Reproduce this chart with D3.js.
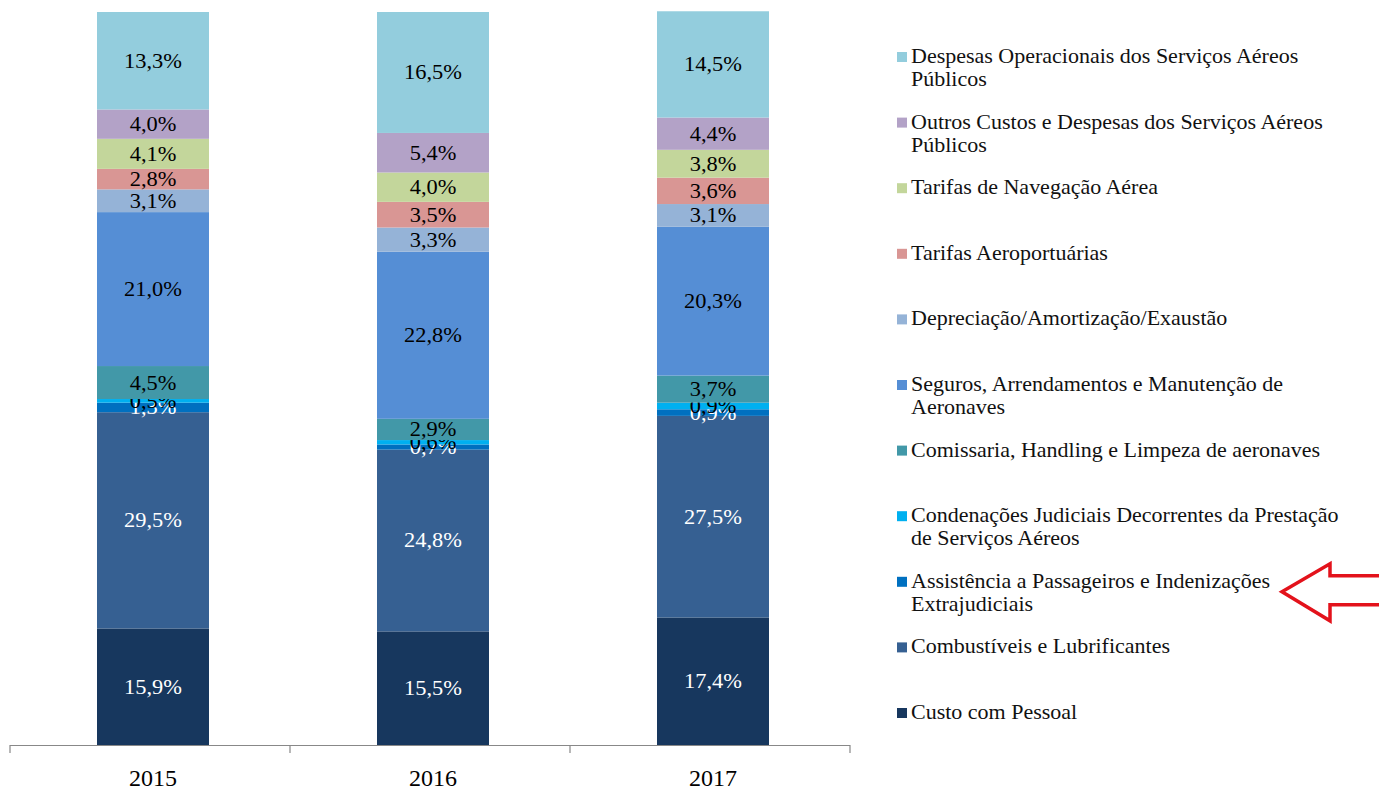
<!DOCTYPE html>
<html lang="pt">
<head>
<meta charset="UTF-8">
<script src="https://cdnjs.cloudflare.com/ajax/libs/d3/7.8.5/d3.min.js"></script>
<style>
  body { margin: 0; background: #fff; }
  text { font-family: "Liberation Serif", "Times New Roman", serif; }
</style>
</head>
<body>
<svg id="chart" width="1379" height="791"></svg>
<script>
const years = ['2015', '2016', '2017'];

// series, bottom to top of the stack
const series = [
  'Custo com Pessoal',
  'Combustíveis e Lubrificantes',
  'Assistência a Passageiros e Indenizações Extrajudiciais',
  'Condenações Judiciais Decorrentes da Prestação de Serviços Aéreos',
  'Comissaria, Handling e Limpeza de aeronaves',
  'Seguros, Arrendamentos e Manutenção de Aeronaves',
  'Depreciação/Amortização/Exaustão',
  'Tarifas Aeroportuárias',
  'Tarifas de Navegação Aérea',
  'Outros Custos e Despesas dos Serviços Aéreos Públicos',
  'Despesas Operacionais dos Serviços Aéreos Públicos'
];

const pessoal      = [15.9, 15.5, 17.4];
const combustiveis = [29.5, 24.8, 27.5];
const assistencia  = [1.3, 0.7, 0.9];
const condenacoes  = [0.5, 0.6, 0.9];
const comissaria   = [4.5, 2.9, 3.7];
const seguros      = [21.0, 22.8, 20.3];
const depreciacao  = [3.1, 3.3, 3.1];
const tarifasAero  = [2.8, 3.5, 3.6];
const navegacao    = [4.1, 4.0, 3.8];
const outros       = [4.0, 5.4, 4.4];
const despesasOp   = [13.3, 16.5, 14.5];

const values = [pessoal, combustiveis, assistencia, condenacoes, comissaria, seguros,
                depreciacao, tarifasAero, navegacao, outros, despesasOp];

const colors = ['#17375e', '#366092', '#0070c0', '#00b0f0', '#4298a8', '#558ed5',
                '#95b3d7', '#d99694', '#c3d69b', '#b3a2c7', '#93cddd'];
const labelColors = ['#fff', '#fff', '#fff', '#000', '#000', '#000',
                     '#000', '#000', '#000', '#000', '#000'];

// legend lines (top to bottom)
const legendLines = [
  ['Despesas Operacionais dos Serviços Aéreos', 'Públicos'],
  ['Outros Custos e Despesas dos Serviços Aéreos', 'Públicos'],
  ['Tarifas de Navegação Aérea'],
  ['Tarifas Aeroportuárias'],
  ['Depreciação/Amortização/Exaustão'],
  ['Seguros, Arrendamentos e Manutenção de', 'Aeronaves'],
  ['Comissaria, Handling e Limpeza de aeronaves'],
  ['Condenações Judiciais Decorrentes da Prestação', 'de Serviços Aéreos'],
  ['Assistência a Passageiros e Indenizações', 'Extrajudiciais'],
  ['Combustíveis e Lubrificantes'],
  ['Custo com Pessoal']
];

const table = years.map((y, i) => {
  const row = { year: y };
  series.forEach((s, j) => row[s] = values[j][i]);
  return row;
});

const svg = d3.select('#chart');
const x = d3.scaleBand().domain(years).range([13, 853]).paddingInner(0.6).paddingOuter(0.3);
const y = d3.scaleLinear().domain([0, 100]).range([745, 12]);

const stack = d3.stack().keys(series)(table);

const layers = svg.append('g').selectAll('g.layer')
  .data(stack).enter().append('g')
  .attr('class', 'layer')
  .attr('fill', (d, i) => colors[i]);

layers.selectAll('rect')
  .data(d => d).enter().append('rect')
  .attr('x', d => x(d.data.year))
  .attr('width', x.bandwidth())
  .attr('y', d => y(d[1]))
  .attr('height', d => y(d[0]) - y(d[1]));

layers.each(function (d, i) {
  d3.select(this).selectAll('text')
    .data(d).enter().append('text')
    .attr('transform', p => `translate(${x(p.data.year) + x.bandwidth() / 2},${(y(p[0]) + y(p[1])) / 2}) scale(1.12,1)`)
    .attr('dy', '0.35em')
    .attr('text-anchor', 'middle')
    .attr('font-size', 20)
    .attr('fill', labelColors[i])
    .text(p => d3.format('.1f')(p[1] - p[0]).replace('.', ',') + '%');
});

// x axis with boundary ticks
const axisG = svg.append('g');
axisG.append('line')
  .attr('x1', 10).attr('x2', 850).attr('y1', 745.5).attr('y2', 745.5)
  .attr('stroke', '#888').attr('stroke-width', 1.2);
const step = x.step();
axisG.selectAll('line.tick')
  .data(d3.range(years.length + 1)).enter().append('line')
  .attr('class', 'tick')
  .attr('x1', i => 10 + i * step).attr('x2', i => 10 + i * step)
  .attr('y1', 745).attr('y2', 753)
  .attr('stroke', '#888').attr('stroke-width', 1.2);
axisG.selectAll('text')
  .data(years).enter().append('text')
  .attr('x', d => x(d) + x.bandwidth() / 2)
  .attr('y', 786)
  .attr('text-anchor', 'middle')
  .attr('font-size', 24)
  .text(d => d);

// legend
const legend = svg.append('g').attr('transform', 'translate(897,56)');
const item = legend.selectAll('g').data(legendLines).enter().append('g')
  .attr('transform', (d, i) => `translate(0,${i * 65.6})`);
item.append('rect')
  .attr('x', 0).attr('y', -4).attr('width', 10).attr('height', 10)
  .attr('fill', (d, i) => colors[series.length - 1 - i]);
item.each(function (lines) {
  d3.select(this).selectAll('text').data(lines).enter().append('text')
    .attr('transform', (l, k) => `translate(14,${k * 23}) scale(1.1,1)`)
    .attr('dy', '0.35em')
    .attr('font-size', 20)
    .attr('fill', '#111')
    .text(l => l);
});

// red outline arrow pointing at Assistência
const ay = 56 + 8 * 65.6 + 11;
const arrow = d3.path();
arrow.moveTo(1282, ay);
arrow.lineTo(1330, ay - 28);
arrow.lineTo(1330, ay - 16);
arrow.lineTo(1382, ay - 16);
arrow.lineTo(1382, ay + 13);
arrow.lineTo(1330, ay + 13);
arrow.lineTo(1330, ay + 29);
arrow.closePath();
svg.append('path')
  .attr('d', arrow.toString())
  .attr('fill', '#fff')
  .attr('stroke', '#e3121b')
  .attr('stroke-width', 3.5)
  .attr('stroke-linejoin', 'miter');
</script>
</body>
</html>
